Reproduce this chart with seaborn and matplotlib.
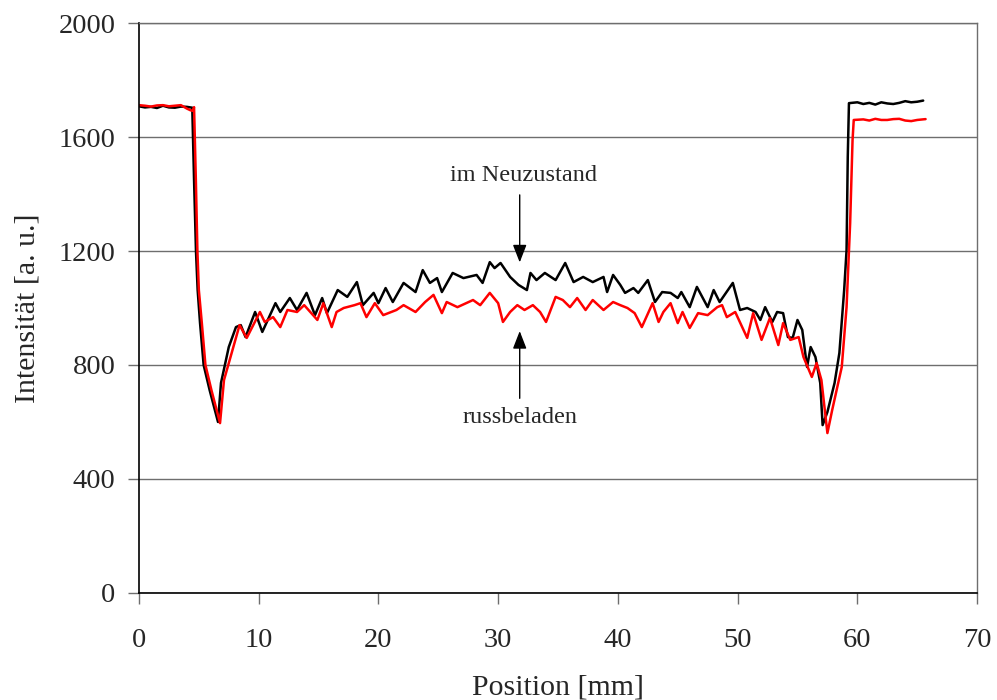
import matplotlib
matplotlib.use("Agg")
import matplotlib.pyplot as plt
import seaborn as sns
import pandas as pd

# Intensity profile across the sample, new state (black)
pos_neu = [0.0, 0.5, 1.0, 1.5, 2.0, 2.5, 3.0, 3.5, 4.0, 4.45,
           4.6, 4.76, 4.9, 5.1, 5.4, 5.9, 6.6,
           6.85, 7.5, 8.1, 8.5, 8.9, 9.7, 10.3, 11.4, 11.8, 12.6, 13.2, 14.0,
           14.7, 15.3, 15.7, 16.6, 17.4, 18.2, 18.7, 19.6, 20.0, 20.6, 21.2,
           22.1, 23.1, 23.7, 24.3, 24.9, 25.3, 26.2, 27.1, 28.2, 28.7, 29.3,
           29.7, 30.2, 31.0, 31.7, 32.4, 32.7, 33.2, 33.9, 34.8, 35.6, 36.3,
           37.1, 37.9, 38.8, 39.1, 39.6, 40.2, 40.6, 41.3, 41.7, 42.5, 43.1,
           43.7, 44.4, 45.0, 45.3, 46.0, 46.6, 47.5, 48.0, 48.5, 49.6, 50.2,
           50.8, 51.5, 51.9, 52.3, 52.9, 53.3, 53.8, 54.2, 54.6, 55.0, 55.4,
           55.8, 56.1, 56.5, 56.9, 57.1, 57.5, 58.1, 58.5, 58.9, 59.1, 59.2,
           59.3, 60.0, 60.5, 61.0, 61.5, 62.0, 62.5, 63.0, 63.5, 64.0, 64.5,
           65.0, 65.5]
int_neu = [1708, 1704, 1706, 1702, 1710, 1704, 1703, 1707, 1706, 1703,
           1450, 1200, 1063, 947, 800, 712, 600,
           737, 863, 933, 940, 898, 986, 916, 1017, 986, 1035, 993, 1053,
           975, 1035, 982, 1063, 1039, 1091, 1010, 1053, 1017, 1070, 1021,
           1088, 1056, 1133, 1088, 1105, 1056, 1123, 1105, 1116, 1088, 1161,
           1140, 1158, 1109, 1081, 1063, 1123, 1098, 1123, 1098, 1158, 1091,
           1109, 1091, 1109, 1056, 1116, 1081, 1053, 1070, 1053, 1098, 1021,
           1056, 1053, 1035, 1056, 1003, 1074, 1003, 1063, 1021, 1088, 993,
           1000, 986, 958, 1003, 951, 986, 982, 898, 895, 958, 923,
           793, 863, 828, 737, 589, 635, 737, 842, 1063, 1203, 1530,
           1719, 1722, 1716, 1720, 1714, 1722, 1718, 1716, 1720, 1726, 1722,
           1724, 1728]

# Intensity profile across the sample, soot-loaded state (red)
pos_russ = [0.0, 0.5, 1.0, 1.5, 2.0, 2.5, 3.0, 3.5, 4.0, 4.3, 4.5, 4.6,
            4.75, 4.88, 5.0, 5.25, 5.55, 6.05, 6.77,
            7.1, 8.4, 9.0, 10.1, 10.5, 11.2, 11.8, 12.4, 13.2, 13.8, 14.9,
            15.4, 16.1, 16.5, 17.1, 18.0, 18.5, 19.0, 19.7, 20.4, 21.5, 22.1,
            23.1, 23.9, 24.6, 25.3, 25.7, 26.6, 27.9, 28.5, 29.3, 30.0, 30.4,
            31.0, 31.6, 32.2, 32.9, 33.5, 34.0, 34.8, 35.4, 36.0, 36.6, 37.3,
            37.9, 38.8, 39.6, 40.2, 40.8, 41.4, 42.0, 42.9, 43.4, 43.8, 44.4,
            45.0, 45.4, 46.0, 46.7, 47.5, 48.3, 48.7, 49.1, 49.8, 50.8, 51.3,
            52.0, 52.7, 53.4, 53.8, 54.4, 55.1, 55.5, 56.2, 56.6, 57.0, 57.5,
            57.9, 58.7, 59.1, 59.4, 59.6, 59.7, 60.5, 61.0, 61.5, 62.0, 62.5,
            63.0, 63.5, 64.0, 64.5, 65.0, 65.7]
int_russ = [1712, 1710, 1707, 1711, 1712, 1708, 1710, 1712, 1700, 1694, 1692, 1705,
            1450, 1200, 1063, 947, 800, 712, 596,
            747, 940, 895, 986, 951, 968, 933, 993, 986, 1010, 958,
            1017, 933, 986, 1000, 1010, 1017, 968, 1017, 975, 993, 1010,
            986, 1021, 1046, 982, 1021, 1003, 1028, 1010, 1053, 1017, 951,
            986, 1010, 993, 1010, 986, 951, 1039, 1028, 1003, 1035, 993,
            1028, 993, 1021, 1010, 1000, 982, 933, 1017, 951, 986, 1017,
            947, 986, 930, 982, 975, 1003, 1010, 968, 986, 895, 982,
            888, 965, 870, 947, 888, 898, 828, 758, 807, 747, 561,
            642, 793, 1003, 1298, 1589, 1660, 1662, 1658, 1664, 1660, 1660,
            1663, 1664, 1658, 1656, 1660, 1663]

x_ticks = [0, 10, 20, 30, 40, 50, 60, 70]
y_ticks = [0, 400, 800, 1200, 1600, 2000]
label_neu = "im Neuzustand"
label_russ = "russbeladen"

df = pd.concat([
    pd.DataFrame({"Position": pos_neu, "Intensität": int_neu, "Zustand": label_neu}),
    pd.DataFrame({"Position": pos_russ, "Intensität": int_russ, "Zustand": label_russ}),
], ignore_index=True)

sns.set_theme(style="white")
plt.rcParams["font.family"] = ["Liberation Serif", "DejaVu Serif"]

fig = plt.figure(figsize=(9.97, 7.0), dpi=100)
ax = fig.add_axes([0.1394, 0.153, 0.8406, 0.814])

sns.lineplot(data=df, x="Position", y="Intensität", hue="Zustand",
             palette={label_neu: "black", label_russ: "#ff0000"},
             hue_order=[label_neu, label_russ],
             sort=False, estimator=None, linewidth=1.8, legend=False, ax=ax)

ax.set_xlim(0, 70)
ax.set_ylim(0, 2000)
ax.set_xticks(x_ticks)
ax.set_yticks(y_ticks)
ax.set_xticklabels([str(t) for t in x_ticks])
ax.set_yticklabels([str(t) for t in y_ticks])
ax.yaxis.grid(True, color="#6e6e6e", linewidth=1.0)
ax.xaxis.grid(False)
ax.set_axisbelow(True)

for side in ("left", "bottom"):
    ax.spines[side].set_color("black")
    ax.spines[side].set_linewidth(1.2)
for side in ("top", "right"):
    ax.spines[side].set_color("#6e6e6e")
    ax.spines[side].set_linewidth(1.0)

ax.tick_params(axis="both", which="major", direction="out", length=8,
               width=1.0, color="#6e6e6e", labelsize=20.5,
               left=True, bottom=True)
ax.tick_params(axis="y", pad=9)
ax.tick_params(axis="x", pad=17)
ax.set_xlabel("Position [mm]", fontsize=21.5, labelpad=16)
ax.set_ylabel("Intensität [a. u.]", fontsize=21.5, labelpad=13)

arrow = dict(arrowstyle="-|>,head_length=0.9,head_width=0.35", color="black",
             linewidth=1.0, shrinkA=0, shrinkB=0)
ax.annotate("", xy=(31.8, 1160), xytext=(31.8, 1397), arrowprops=arrow)
ax.annotate("", xy=(31.8, 919), xytext=(31.8, 683), arrowprops=arrow)
ax.text(32.1, 1445, label_neu, ha="center", va="baseline", fontsize=17.5)
ax.text(31.8, 595, label_russ, ha="center", va="baseline", fontsize=17.5)

fig.savefig("out.png", dpi=100)
